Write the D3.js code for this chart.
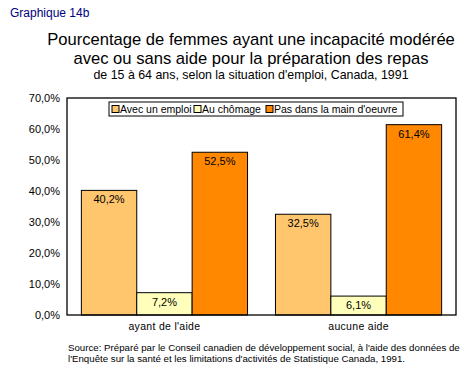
<!DOCTYPE html>
<html>
<head>
<meta charset="utf-8">
<script src="https://cdn.jsdelivr.net/npm/d3@7"></script>
<style>
  body { margin: 0; background: #fff; }
  text { font-family: Arial, "Liberation Sans", sans-serif; }
</style>
</head>
<body>
<div id="chart"></div>
<script>
// Data
var categories = ["ayant de l'aide", "aucune aide"];
var seriesNames = ["Avec un emploi", "Au chômage", "Pas dans la main d'oeuvre"];
var seriesColors = ["#ffc66e", "#ffffbb", "#ff8800"];
var avecEmploi = [40.2, 32.5];
var auChomage = [7.2, 6.1];
var pasMainOeuvre = [52.5, 61.4];
var yTicks = [0, 10, 20, 30, 40, 50, 60, 70];

var seriesValues = [avecEmploi, auChomage, pasMainOeuvre];

var svgWidth = 475;
var svgHeight = 366;

// plot area box
var margin = { top: 98, right: 19, bottom: 51, left: 67 };
var width = svgWidth - margin.left - margin.right;
var height = svgHeight - margin.top - margin.bottom;

var fmt = function(v) { return d3.format(".1f")(v).replace(".", ",") + "%"; };

var svg = d3.select("#chart")
  .append("svg")
  .attr("width", svgWidth)
  .attr("height", svgHeight);

// titles
svg.append("text")
  .attr("x", 10).attr("y", 17)
  .attr("fill", "#000080")
  .style("font-size", "12px")
  .text("Graphique 14b");

var titles = [
  { t: "Pourcentage de femmes ayant une incapacité modérée", y: 45, s: 16.6 },
  { t: "avec ou sans aide pour la préparation des repas", y: 64, s: 16.6 },
  { t: "de 15 à 64 ans, selon la situation d'emploi, Canada, 1991", y: 79, s: 12.4 }
];
svg.selectAll(".title")
  .data(titles)
  .enter()
  .append("text")
  .attr("class", "title")
  .attr("x", 251)
  .attr("y", d => d.y)
  .attr("text-anchor", "middle")
  .style("font-size", d => d.s + "px")
  .text(d => d.t);

var chartGroup = svg.append("g")
  .attr("transform", `translate(${margin.left}, ${margin.top})`);

var yScale = d3.scaleLinear()
  .domain([0, 70])
  .range([height, 0]);

var x0 = d3.scaleBand()
  .domain(categories)
  .range([0, width])
  .paddingInner(0.144)
  .paddingOuter(0.074);

var x1 = d3.scaleBand()
  .domain(d3.range(seriesNames.length))
  .range([0, x0.bandwidth()]);

// y axis labels, no tick marks
var leftAxis = d3.axisLeft(yScale)
  .tickValues(yTicks)
  .tickSize(0)
  .tickPadding(7)
  .tickFormat(fmt);

chartGroup.append("g")
  .call(leftAxis)
  .call(g => g.select(".domain").remove())
  .selectAll("text")
  .style("font-size", "11px")
  .attr("fill", "#000");

// bars
var groups = chartGroup.selectAll(".grp")
  .data(categories)
  .enter()
  .append("g")
  .attr("class", "grp")
  .attr("transform", d => `translate(${x0(d)}, 0)`);

groups.selectAll("rect")
  .data((d, i) => seriesValues.map((vals, s) => ({ s: s, v: vals[i] })))
  .enter()
  .append("rect")
  .attr("x", d => x1(d.s))
  .attr("y", d => yScale(d.v))
  .attr("width", x1.bandwidth())
  .attr("height", d => height - yScale(d.v))
  .attr("fill", d => seriesColors[d.s])
  .attr("stroke", "#000")
  .attr("stroke-width", 1);

groups.selectAll(".val")
  .data((d, i) => seriesValues.map((vals, s) => ({ s: s, v: vals[i] })))
  .enter()
  .append("text")
  .attr("class", "val")
  .attr("x", d => x1(d.s) + x1.bandwidth() / 2)
  .attr("y", d => yScale(d.v) + 13)
  .attr("text-anchor", "middle")
  .style("font-size", "11px")
  .text(d => fmt(d.v));

// plot border
chartGroup.append("rect")
  .attr("x", 0).attr("y", 0)
  .attr("width", width).attr("height", height)
  .attr("fill", "none")
  .attr("stroke", "#000")
  .attr("stroke-width", 1.3);

// category labels
chartGroup.selectAll(".cat")
  .data(categories)
  .enter()
  .append("text")
  .attr("class", "cat")
  .attr("x", d => x0(d) + x0.bandwidth() / 2)
  .attr("y", height + 15)
  .attr("text-anchor", "middle")
  .style("font-size", "10.5px")
  .style("letter-spacing", "0.3px")
  .text(d => d);

// legend
var legend = chartGroup.append("g")
  .attr("transform", "translate(42, 4)");

legend.append("rect")
  .attr("x", 0).attr("y", 0)
  .attr("width", 294).attr("height", 14)
  .attr("fill", "#fff")
  .attr("stroke", "#000");

var legendX = [3, 85, 157];
var items = legend.selectAll(".li")
  .data(seriesNames)
  .enter()
  .append("g")
  .attr("class", "li")
  .attr("transform", (d, i) => `translate(${legendX[i]}, 0)`);

items.append("rect")
  .attr("x", 0).attr("y", 3.5)
  .attr("width", 7).attr("height", 7)
  .attr("fill", (d, i) => seriesColors[i])
  .attr("stroke", "#000");

items.append("text")
  .attr("x", 8).attr("y", 11)
  .style("font-size", "10.5px")
  .text(d => d);

// source
var source = [
  "Source: Préparé par le Conseil canadien de développement social, à l'aide des données de",
  "l'Enquête sur la santé et les limitations d'activités de Statistique Canada, 1991."
];
svg.selectAll(".src")
  .data(source)
  .enter()
  .append("text")
  .attr("class", "src")
  .attr("x", 68)
  .attr("y", (d, i) => 351 + i * 11)
  .style("font-size", "9.7px")
  .text(d => d);
</script>
</body>
</html>
